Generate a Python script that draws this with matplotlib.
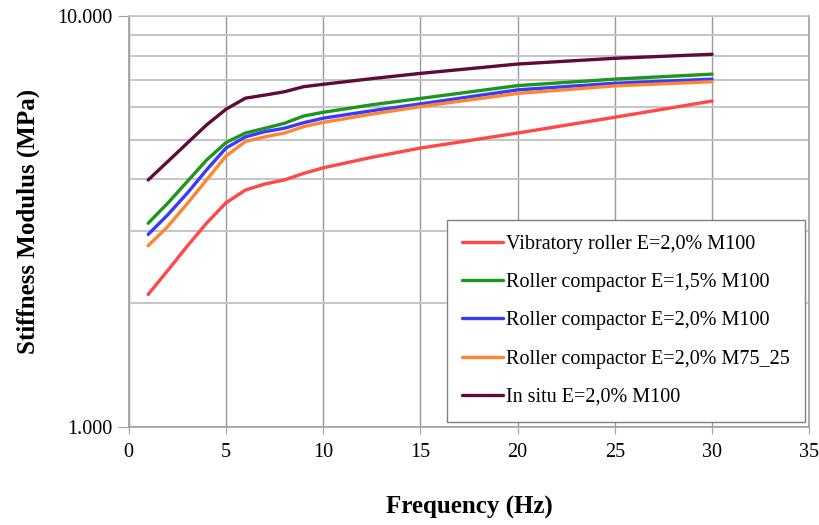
import matplotlib
matplotlib.use("Agg")
import matplotlib.pyplot as plt
from matplotlib.ticker import FixedLocator, FuncFormatter, NullFormatter

freq = [1, 2, 3, 4, 5, 6, 7, 8, 9, 10, 12.5, 15, 20, 25, 30]

vibratory_e20_m100 = [2100, 2400, 2750, 3130, 3510, 3770, 3900, 3990, 4140, 4270, 4530, 4770, 5190, 5670, 6210]
roller_e15_m100 = [3130, 3500, 3950, 4460, 4920, 5190, 5330, 5480, 5710, 5830, 6080, 6300, 6770, 7020, 7220]
roller_e20_m100 = [2940, 3280, 3700, 4220, 4770, 5080, 5230, 5330, 5500, 5640, 5880, 6110, 6610, 6860, 7020]
roller_e20_m75_25 = [2760, 3070, 3490, 3990, 4560, 4950, 5080, 5190, 5380, 5510, 5770, 6020, 6480, 6760, 6920]
insitu_e20_m100 = [3990, 4420, 4900, 5430, 5930, 6310, 6420, 6540, 6730, 6820, 7040, 7250, 7640, 7890, 8070]

labels = [
    "Vibratory roller E=2,0% M100",
    "Roller compactor E=1,5% M100",
    "Roller compactor E=2,0% M100",
    "Roller compactor E=2,0% M75_25",
    "In situ E=2,0% M100",
]
series = [vibratory_e20_m100, roller_e15_m100, roller_e20_m100, roller_e20_m75_25, insitu_e20_m100]
colors = ["#ff4848", "#1c961c", "#3a3aff", "#ff8530", "#600a3c"]

x_ticks = [0, 5, 10, 15, 20, 25, 30, 35]
y_major = [1000, 10000]
y_minor = [2000, 3000, 4000, 5000, 6000, 7000, 8000, 9000]

plt.rcParams['font.family'] = ['Liberation Serif', 'DejaVu Serif']

fig = plt.figure(figsize=(8.2, 5.25), dpi=100)
ax = fig.add_axes([0.157, 0.187, 0.830, 0.7825])

ax.set_yscale('log')
ax.set_xlim(0, 35)
ax.set_ylim(1000, 10000)

ax.xaxis.set_major_locator(FixedLocator(x_ticks))
ax.yaxis.set_major_locator(FixedLocator(y_major))
ax.yaxis.set_minor_locator(FixedLocator(y_minor))
ax.yaxis.set_major_formatter(FuncFormatter(lambda v, p: f"{int(round(v)):,}".replace(",", ".")))
ax.yaxis.set_minor_formatter(NullFormatter())

ax.grid(True, axis='x', which='major', color='#9a9a9a', linewidth=1.0)
ax.grid(True, axis='y', which='both', color='#c4c4c4', linewidth=1.4)
ax.set_axisbelow(True)

for s in ['left', 'bottom', 'right', 'top']:
    ax.spines[s].set_color('#a0a0a0')
    ax.spines[s].set_linewidth(1.2)
ax.spines['top'].set_color('#c4c4c4')

ax.tick_params(axis='y', which='major', length=8, color='#a0a0a0', labelsize=14.5, pad=4)
ax.tick_params(axis='y', which='minor', length=0)
ax.tick_params(axis='x', which='major', length=5, color='#a0a0a0', labelsize=14.5, pad=7)

for vals, lab, c in zip(series, labels, colors):
    ax.plot(freq, vals, color=c, linewidth=2.4, label=lab, solid_capstyle='round',
            solid_joinstyle='round')

ax.set_xlabel("Frequency (Hz)", fontsize=18, fontweight='bold', labelpad=24)
ax.set_ylabel("Stiffness Modulus (MPa)", fontsize=18, fontweight='bold', labelpad=12)

leg = ax.legend(loc='lower right', bbox_to_anchor=(0.993, 0.012), fontsize=14.5,
                frameon=True, fancybox=False, edgecolor='#808080', framealpha=1,
                handlelength=2.0, handletextpad=0.15, labelspacing=0.95,
                borderpad=0.75, borderaxespad=0.0)
leg.get_frame().set_linewidth(1.0)

fig.savefig("out.png", dpi=100)
